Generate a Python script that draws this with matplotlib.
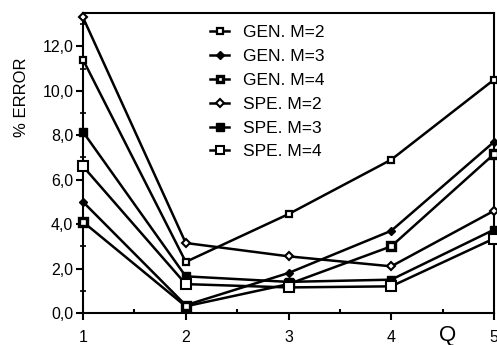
import matplotlib
matplotlib.use("Agg")
import matplotlib.pyplot as plt
from matplotlib.ticker import FuncFormatter, MultipleLocator

plt.rcParams["font.family"] = ["Liberation Sans", "DejaVu Sans"]

# data
q = [1, 2, 3, 4, 5]
gen_m2 = [11.4, 2.3, 4.45, 6.9, 10.5]
gen_m3 = [5.0, 0.35, 1.8, 3.7, 7.7]
gen_m4 = [4.1, 0.3, 1.3, 3.0, 7.15]
spe_m2 = [13.3, 3.15, 2.55, 2.1, 4.6]
spe_m3 = [8.15, 1.65, 1.4, 1.5, 3.75]
spe_m4 = [6.6, 1.3, 1.15, 1.2, 3.35]

labels = ["GEN. M=2", "GEN. M=3", "GEN. M=4", "SPE. M=2", "SPE. M=3", "SPE. M=4"]
series = [gen_m2, gen_m3, gen_m4, spe_m2, spe_m3, spe_m4]

# marker styles: (marker, size, facecolor, edgewidth)
styles = [
    ("s", 4.5, "white", 1.6),
    ("D", 4.5, "black", 1.0),
    ("s", 5.5, "white", 2.4),
    ("D", 4.5, "white", 1.5),
    ("s", 6, "black", 1.0),
    ("s", 6.5, "white", 1.5),
]

fig = plt.figure(figsize=(4.97, 3.45), dpi=100)
ax = fig.add_axes([83 / 497, 1 - 313 / 345, (494 - 83) / 497, 300 / 345])

for ys, lab, (m, ms, fc, mew) in zip(series, labels, styles):
    ax.plot(q, ys, color="black", lw=1.8, marker=m, ms=ms, mfc=fc, mec="black",
            mew=mew, label=lab, clip_on=False, zorder=3)

ax.set_xlim(1, 5)
ax.set_ylim(0, 13.5)
ax.xaxis.set_major_locator(MultipleLocator(1))
ax.xaxis.set_minor_locator(MultipleLocator(0.5))
ax.yaxis.set_major_locator(MultipleLocator(2))
ax.yaxis.set_minor_locator(MultipleLocator(1))
ax.yaxis.set_major_formatter(FuncFormatter(lambda v, p: f"{v:.1f}".replace(".", ",")))

ax.tick_params(axis="x", which="major", direction="out", length=5, width=1.5,
               labelsize=11.5, pad=7)
ax.tick_params(axis="x", which="minor", direction="in", length=3, width=1.5)
ax.tick_params(axis="y", which="major", direction="out", length=5, width=1.5,
               labelsize=11.5, pad=2)
ax.tick_params(axis="y", which="minor", direction="inout", length=4, width=1.2)
for s in ax.spines.values():
    s.set_linewidth(1.5)

fig.text(22 / 497, 1 - 97 / 345, "% ERROR", rotation=90, ha="center", va="center",
         fontsize=12)
fig.text(448 / 497, 1 - 336 / 345, "Q", ha="center", va="center", fontsize=16)

ax.legend(loc="upper left", bbox_to_anchor=(0.28, 1.0), frameon=False,
          fontsize=12.5, handlelength=1.1, handletextpad=0.8, labelspacing=0.5,
          borderaxespad=0.3, markerscale=0.85)

fig.savefig("out.png", dpi=100)
